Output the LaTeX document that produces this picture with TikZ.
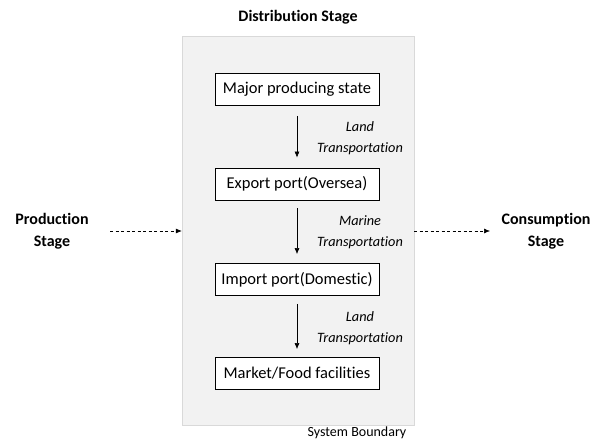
\documentclass[tikz,border=0pt]{standalone}
\usepackage{fontspec}
\setmainfont{Carlito}[Ligatures=NoCommon]
\usetikzlibrary{arrows.meta}
\begin{document}
\begin{tikzpicture}[x=1pt,y=-1pt,
  stagebox/.style={draw=black,thick,fill=white,minimum width=164pt,minimum height=32pt,inner sep=0pt,font=\fontsize{16.5}{18}\selectfont},
  flow/.style={-{Latex[length=6pt,width=5pt]},semithick},
  dflow/.style={-{Latex[length=6pt,width=5pt]},semithick,dashed,dash pattern=on 3pt off 2.5pt},
  lbl/.style={font=\fontsize{14.3}{21}\selectfont\itshape,align=center},
  ttl/.style={font=\fontsize{16}{22}\selectfont\bfseries,align=center}]
\useasboundingbox (0,0) rectangle (605,441);
\node[draw=black!15,fill=black!5,minimum width=232pt,minimum height=389pt,inner sep=0pt] (bnd) at (298,230.5) {};
\node[ttl] (dist) at (298,17) {Distribution Stage};
\node[stagebox] (b1) at (297,89.5) {Major producing state};
\node[stagebox] (b2) at (297,184) {Export port(Oversea)};
\node[stagebox] (b3) at (297,279.5) {Import port(Domestic)};
\node[stagebox] (b4) at (297,373.5) {Market/Food facilities};
\draw[flow] ([yshift=-10pt]b1.south) -- ([yshift=10pt]b2.north);
\draw[flow] ([yshift=-8pt]b2.south) -- ([yshift=9pt]b3.north);
\draw[flow] ([yshift=-8pt]b3.south) -- ([yshift=8pt]b4.north);
\node[lbl] (l1) at (360,138) {Land\\Transportation};
\node[lbl] (l2) at (360,232) {Marine\\Transportation};
\node[lbl] (l3) at (360,328) {Land\\Transportation};
\node[ttl] (prod) at (52,231) {Production\\Stage};
\node[ttl] (cons) at (546,231) {Consumption\\Stage};
\coordinate (pin) at (110,231);
\coordinate (cin) at (490,231);
\draw[dflow] (pin) -- (bnd.west |- pin);
\draw[dflow] (bnd.east |- cin) -- (cin);
\node[font=\fontsize{14}{16}\selectfont] (sb) at (357,433) {System Boundary};
\end{tikzpicture}
\end{document}
